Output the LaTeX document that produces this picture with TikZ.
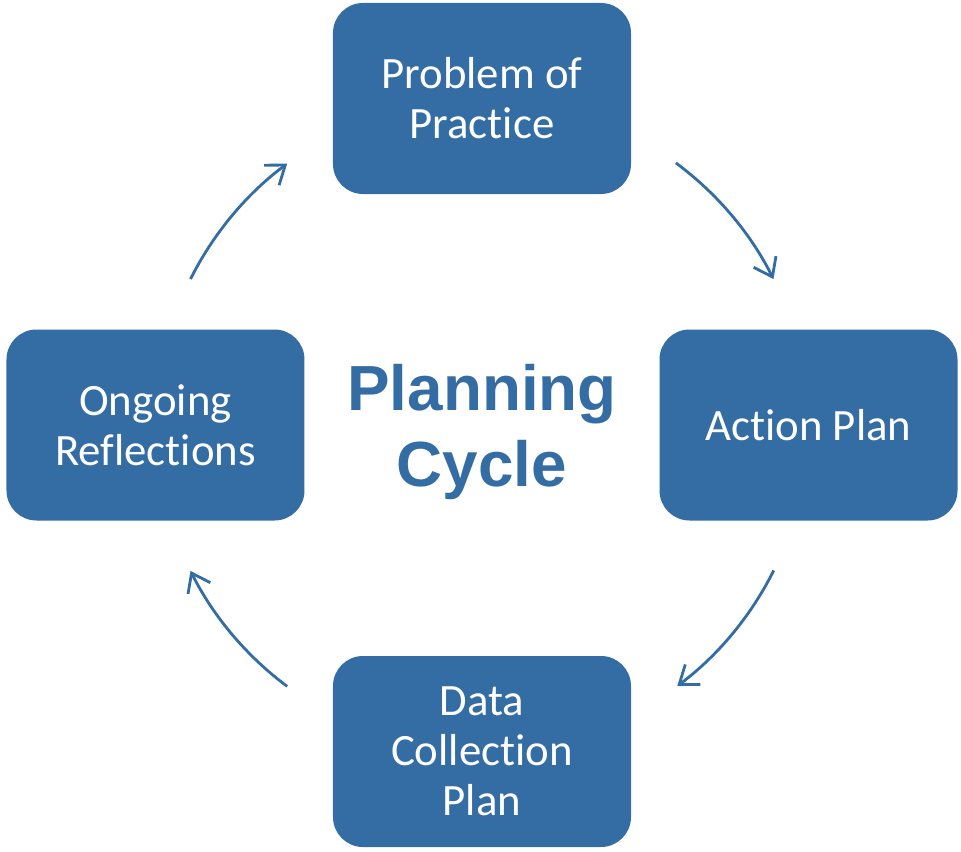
\documentclass[tikz,border=0pt]{standalone}
\usepackage{fontspec}
\setmainfont[Ligatures=NoCommon]{Carlito}
\newfontfamily\titlefont{Liberation Sans}
\usepackage{tikz}
\usetikzlibrary{arrows.meta, calc}
\definecolor{cycleblue}{RGB}{52,108,164}
\tikzstyle{stage} = [rectangle, rounded corners=0.6cm, minimum width=5.96cm, minimum height=3.82cm, fill=cycleblue, text=white, align=center, font=\fontsize{25.5}{28.5}\selectfont]
\tikzstyle{arrow} = [draw=cycleblue, line width=1.6pt, -{Straight Barb[length=0.34cm, width=0.5cm, line width=1.6pt]}]

\begin{document}
\begin{tikzpicture}[node distance=6.53cm]
        \useasboundingbox (-9.64,-8.52) rectangle (9.58,8.5);
        \coordinate (hub) at (0,0);
        \node (cycle) [at={(hub)}, yshift=-0.14cm, text=cycleblue, align=center, font=\titlefont\bfseries\fontsize{36.3}{43.5}\selectfont] {Planning\\Cycle};
        \node (problem) [stage, above of=hub] {Problem of\\Practice};
        \node (action) [stage, right of=hub] {Action Plan};
        \node (data) [stage, below of=hub] {Data\\Collection\\Plan};
        \node (reflect) [stage, left of=hub] {Ongoing\\Reflections};

        % arrows on a circle round the title
        \coordinate (pa) at ($(hub)+(53.5:6.52)$);
        \coordinate (ad) at ($(hub)+(-26.5:6.52)$);
        \coordinate (dr) at ($(hub)+(233.3:6.52)$);
        \coordinate (rp) at ($(hub)+(153.4:6.52)$);

        \draw [arrow] (pa) arc[start angle=53.5, end angle=26.6, radius=6.52];
        \draw [arrow] (ad) arc[start angle=-26.5, end angle=-53.2, radius=6.52];
        \draw [arrow] (dr) arc[start angle=233.3, end angle=206.6, radius=6.52];
        \draw [arrow] (rp) arc[start angle=153.4, end angle=126.7, radius=6.52];
    \end{tikzpicture}
\end{document}
